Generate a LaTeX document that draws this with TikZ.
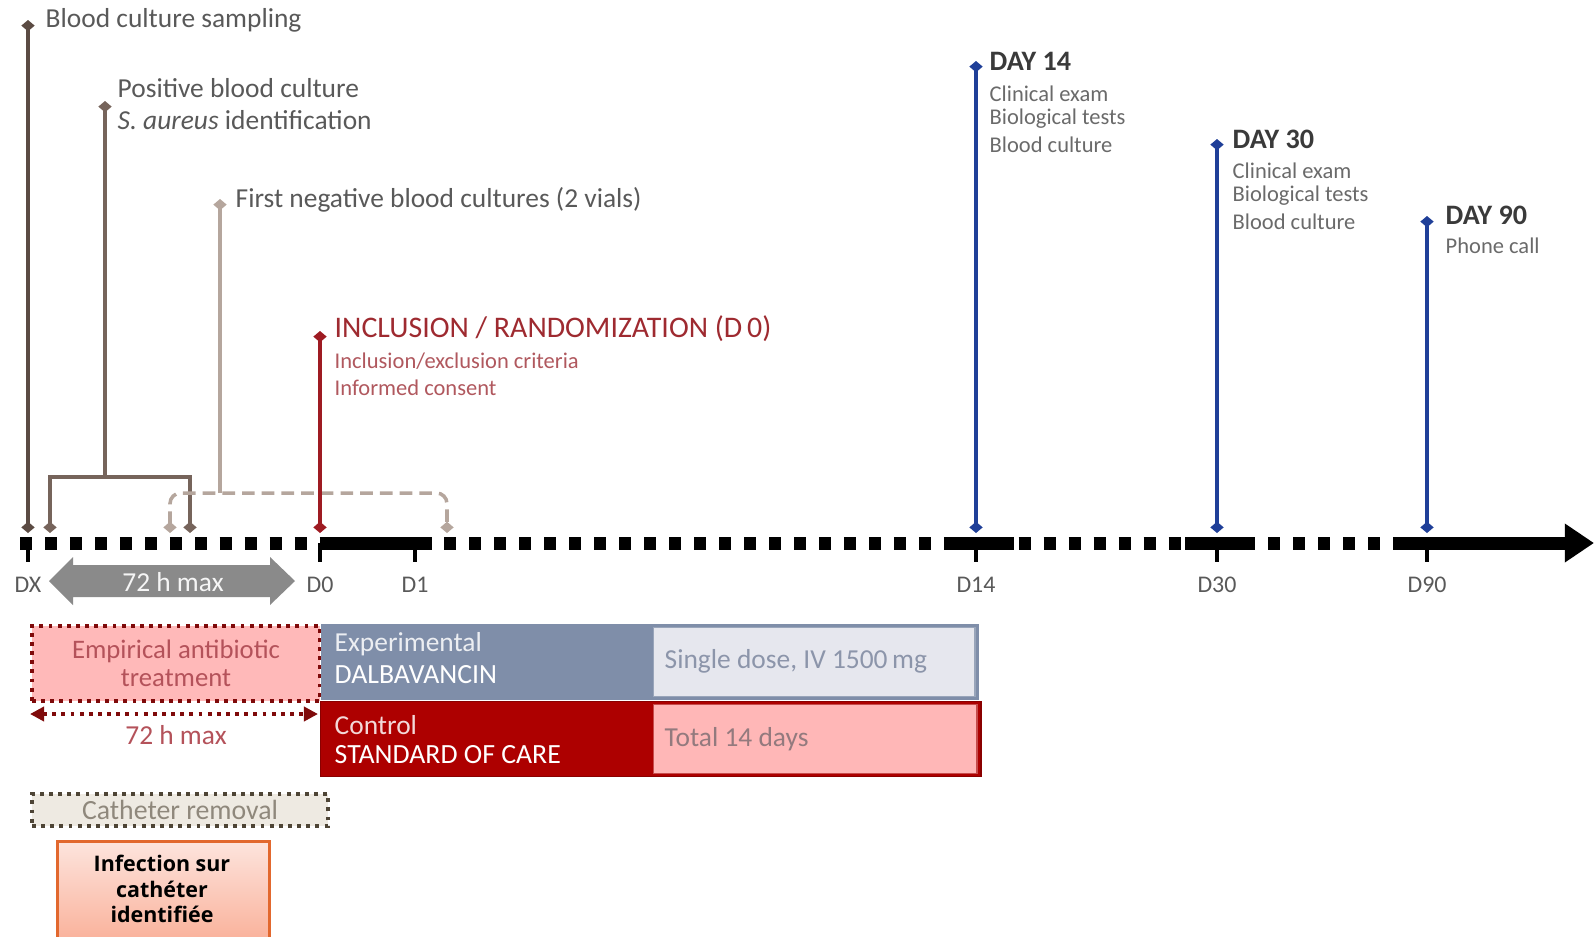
\documentclass[tikz,border=0pt]{standalone}
\usepackage{fontspec}
\setmainfont{Carlito}
\newfontfamily\dalbboldfont{Open Sans}
\usetikzlibrary{arrows.meta}

\newcommand{\dalbfs}[2]{\fontsize{#1}{#2}\selectfont}

\definecolor{dalbbrownA}{HTML}{5B4B43}
\definecolor{dalbbrownB}{HTML}{76645B}
\definecolor{dalbbrownC}{HTML}{B5A69D}
\definecolor{dalbred}{HTML}{9E1B22}
\definecolor{dalbblue}{HTML}{1F3F98}
\definecolor{dalbtext}{HTML}{595959}
\definecolor{dalbsubtext}{HTML}{6A6A6A}
\definecolor{dalbheadtext}{HTML}{3A3A3A}
\definecolor{dalbinc}{HTML}{9E2A30}
\definecolor{dalbincsub}{HTML}{B0585E}
\definecolor{dalbgray}{HTML}{8A8A8A}
\definecolor{dalbempfill}{HTML}{FFB9B9}
\definecolor{dalbempdraw}{HTML}{7F0A0A}
\definecolor{dalbemptext}{HTML}{B4525A}
\definecolor{dalbcathfill}{HTML}{EEEAE2}
\definecolor{dalbcathdraw}{HTML}{4E4536}
\definecolor{dalbcathtext}{HTML}{8F887C}
\definecolor{dalbslate}{HTML}{7F8EA9}
\definecolor{dalbpale}{HTML}{E6E7EE}
\definecolor{dalbdosetext}{HTML}{8C95AA}
\definecolor{dalbctrl}{HTML}{AD0000}
\definecolor{dalbpink}{HTML}{FFB7B7}
\definecolor{dalbtotaltext}{HTML}{937A7E}
\definecolor{dalbinftop}{HTML}{FDE4DD}
\definecolor{dalbinfbot}{HTML}{F9A78D}
\definecolor{dalbinfdraw}{HTML}{E2682E}

\begin{document}
\begin{tikzpicture}[x=0.01cm, y=-0.01cm,
  dalbaxis/.style = {line width=3.7pt, dash pattern=on 3.4pt off 3.7pt},
  dalbsolid/.style = {line width=3.7pt},
  dalbtick/.style = {line width=0.9pt},
  dalbev/.style = {line width=0.9pt},
  dalbdia/.style = {{Diamond[length=3.2pt,width=3.8pt]}-{Diamond[length=3.2pt,width=3.8pt]}},
  dalbdiatop/.style = {{Diamond[length=3.2pt,width=3.8pt]}-},
  dalbdash/.style = {line width=1pt, dash pattern=on 3.6pt off 2pt, rounded corners=3pt},
  dalblbl/.style = {inner sep=0pt, anchor=west, text=dalbtext, font=\dalbfs{7.8}{9}},
  dalbsub/.style = {inner sep=0pt, anchor=west, text=dalbsubtext, font=\dalbfs{6.4}{7}},
  dalbhead/.style = {inner sep=0pt, anchor=west, text=dalbheadtext, font=\dalbfs{8}{9}\bfseries},
  dalbday/.style = {inner sep=0pt, text=dalbtext, font=\dalbfs{6.8}{8}},
  dalbbox/.style = {inner sep=0pt, anchor=north west},
  dalbdots/.style = {line width=1.1pt, dash pattern=on 1.1pt off 1.5pt},
  dalbtxt/.style = {inner sep=0pt, font=\dalbfs{7.8}{8.2}}
]
  \useasboundingbox (0,0) rectangle (1594,936);

  % timeline
  \draw[dalbaxis] (20,543) -- (1399,543);
  \foreach \a/\b in {320/432, 944/1014, 1185/1249}
    \draw[dalbsolid] (\a,543) -- (\b,543);
  \draw[dalbsolid, -{Triangle[length=8.3pt,width=10.5pt]}] (1399,543) -- (1594,543);

  % ticks
  \foreach \x/\d in {28/DX, 320/D0, 415/D1, 976/D14, 1217/D30, 1427/D90} {
    \draw[dalbtick] (\x,543) -- (\x,562);
    \node[dalbday] (tick\d) at (\x,585) {\d};
  }

  % blood culture sampling
  \coordinate (bcstop) at (28,20);
  \coordinate (bcsbot) at (28,533);
  \draw[dalbev, dalbdia, dalbbrownA] (bcstop) -- (bcsbot);
  \node[dalblbl] (bcslbl) at (45,20) {Blood culture sampling};

  % positive blood culture
  \coordinate (postop) at (105,101);
  \coordinate (posmid) at (105,477);
  \coordinate (posleft) at (50,533);
  \coordinate (posright) at (190,533);
  \draw[dalbev, dalbdiatop, dalbbrownB] (postop) -- (posmid);
  \draw[dalbev, dalbdia, dalbbrownB] (posleft) |- (posmid) -| (posright);
  \node[dalblbl] (poslbl) at (117,88) {Positive blood culture};
  \node[dalblbl] (saulbl) at (117,120) {\textit{S. aureus} identification};

  % first negative blood cultures
  \coordinate (negtop) at (220,199);
  \coordinate (negmid) at (220,493);
  \coordinate (negleft) at (170,533);
  \coordinate (negright) at (447,533);
  \draw[dalbev, dalbdiatop, dalbbrownC] (negtop) -- (negmid);
  \draw[dalbdash, dalbdia, dalbbrownC] (negleft) |- (negmid) -| (negright);
  \node[dalblbl] (neglbl) at (235,200) {First negative blood cultures (2 vials)};

  % inclusion
  \coordinate (inctop) at (320,331);
  \coordinate (incbot) at (320,533);
  \draw[dalbev, dalbdia, dalbred] (inctop) -- (incbot);
  \node[dalblbl, text=dalbinc, font=\dalbfs{8.5}{9}] (inclbl) at (334,329) {INCLUSION / RANDOMIZATION (D\,0)};
  \node[dalbsub, text=dalbincsub] (incsuba) at (334,361) {Inclusion/exclusion criteria};
  \node[dalbsub, text=dalbincsub] (incsubb) at (334,388) {Informed consent};

  % follow-up visits
  \foreach \x/\y/\d in {976/61/d14, 1217/139/d30, 1427/216/d90} {
    \coordinate (\d top) at (\x,\y);
    \coordinate (\d bot) at (\x,533);
    \draw[dalbev, dalbdia, dalbblue] (\d top) -- (\d bot);
  }
  \node[dalbhead] (d14lbl) at (989,61) {DAY 14};
  \foreach \t [count=\i] in {Clinical exam, Biological tests, Blood culture}
    \node[dalbsub] (d14sub\i) at (989,{68+25.5*\i}) {\t};
  \node[dalbhead] (d30lbl) at (1232,139) {DAY 30};
  \foreach \t [count=\i] in {Clinical exam, Biological tests, Blood culture}
    \node[dalbsub] (d30sub\i) at (1232,{145+25.5*\i}) {\t};
  \node[dalbhead] (d90lbl) at (1445,215) {DAY 90};
  \node[dalbsub] (d90sub) at (1445,246) {Phone call};

  % 72 h window
  \fill[dalbgray] (49,581) -- (73,557) -- (73,565) -- (270,565) -- (270,557) -- (295,581)
    -- (270,605) -- (270,597) -- (73,597) -- (73,605) -- cycle;
  \node[dalbtxt, text=white!92!gray] (windowlbl) at (173,582) {72 h max};

  % empirical treatment
  \node[dalbbox, fill=dalbempfill, draw=dalbempdraw, dalbdots, minimum width=2.88cm,
    minimum height=0.75cm, align=center, text=dalbemptext, font=\dalbfs{7.6}{8.1}] (empir) at (30,624)
    {Empirical antibiotic\\treatment};
  \coordinate (empleft) at (30,714);
  \coordinate (empright) at (318,714);
  \draw[dalbdots, dalbempdraw, {Triangle[length=4pt,width=4pt]}-{Triangle[length=4pt,width=4pt]}]
    (empleft) -- (empright);
  \node[dalbtxt, text=dalbemptext] (emplbl) at (176,735) {72 h max};

  % catheter removal
  \node[dalbbox, fill=dalbcathfill, draw=dalbcathdraw, dalbdots, minimum width=2.96cm,
    minimum height=0.32cm, text=dalbcathtext, font=\dalbfs{7.9}{8}] (cath) at (30,792) {Catheter removal};

  % infection box
  \node[dalbbox, top color=dalbinftop, bottom color=dalbinfbot, draw=dalbinfdraw, line width=0.8pt,
    minimum width=2.12cm, minimum height=1.2cm] (infect) at (56,840) {};
  \node[inner sep=0pt, align=center, font=\dalbboldfont\bfseries\dalbfs{6.1}{7.2}] (infecttxt) at (162,889)
    {Infection sur\\cathéter\\identifiée};

  % experimental arm
  \node[dalbbox, fill=dalbslate, minimum width=6.58cm, minimum height=0.76cm] (exper) at (320,623) {};
  \node[dalbbox, fill=dalbpale, draw=dalbslate!80!white, minimum width=3.21cm, minimum height=0.69cm] (experdose) at (653,627) {};
  \node[dalbtxt, anchor=west, text=white!85!dalbslate] (experlbl) at (334,644) {Experimental};
  \node[dalbtxt, anchor=west, text=white, font=\dalbfs{7.9}{8}] (dalbalbl) at (334,675) {DALBAVANCIN};
  \node[dalbtxt, anchor=west, text=dalbdosetext] (doselbl) at (664,661) {Single dose, IV 1500\,mg};

  % control arm
  \node[dalbbox, fill=dalbctrl, draw=dalbctrl!80!black, minimum width=6.6cm, minimum height=0.75cm] (ctrl) at (320,701) {};
  \node[dalbbox, fill=dalbpink, draw=dalbctrl!70!white, minimum width=3.23cm, minimum height=0.69cm] (ctrldose) at (653,704) {};
  \node[dalbtxt, anchor=west, text=white!85!dalbctrl] (ctrllbl) at (334,725) {Control};
  \node[dalbtxt, anchor=west, text=white, font=\dalbfs{7.9}{8}] (soclbl) at (334,755) {STANDARD OF CARE};
  \node[dalbtxt, anchor=west, text=dalbtotaltext] (totallbl) at (664,739) {Total 14 days};
\end{tikzpicture}
\end{document}
